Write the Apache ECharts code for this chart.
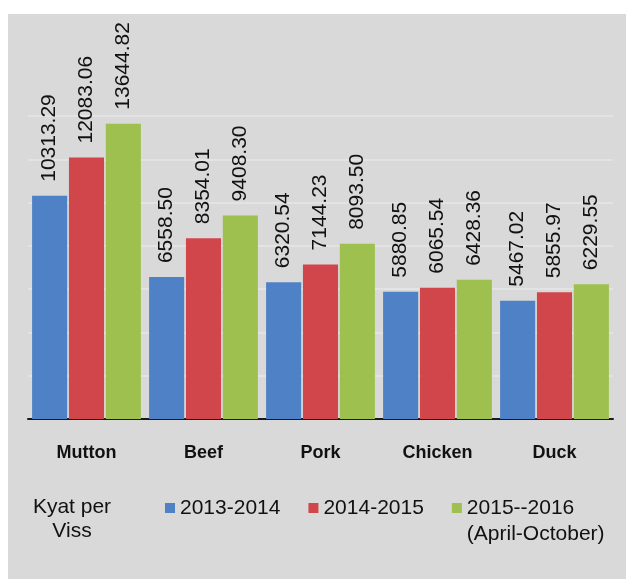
<!DOCTYPE html>
<html>
<head>
<meta charset="utf-8">
<script src="https://cdn.jsdelivr.net/npm/echarts@6/dist/echarts.min.js"></script>
<style>
html,body{margin:0;padding:0;background:#fff;}
#chart{width:626px;height:579px;}
</style>
</head>
<body>
<div id="chart"></div>
<script>
const categories = ['Mutton', 'Beef', 'Pork', 'Chicken', 'Duck'];
const seriesNames = ['2013-2014', '2014-2015', '2015--2016\n(April-October)'];
const values2013 = [10313.29, 6558.50, 6320.54, 5880.85, 5467.02];
const values2014 = [12083.06, 8354.01, 7144.23, 6065.54, 5855.97];
const values2015 = [13644.82, 9408.30, 8093.50, 6428.36, 6229.55];
const unitLabel = 'Kyat per\nViss';
const colors = ['#4e81c6', '#d0464b', '#9dc04f'];

const FONT = "'Liberation Sans', Arial, sans-serif";
const chart = echarts.init(document.getElementById('chart'), null, {renderer: 'canvas'});

function makeSeries(name, data, color) {
  return {
    name: name,
    type: 'bar',
    data: data,
    itemStyle: {color: color},
    barCategoryGap: '7%',
    barGap: '5%',
    label: {
      show: true,
      position: 'top',
      rotate: 90,
      align: 'left',
      verticalAlign: 'middle',
      distance: 14,
      fontFamily: FONT,
      fontSize: 21,
      color: '#111',
      formatter: p => p.value.toFixed(2)
    }
  };
}

chart.setOption({
  animation: false,
  backgroundColor: '#ffffff',
  graphic: [{
    type: 'rect',
    shape: {x: 8, y: 14, width: 618, height: 565},
    style: {fill: '#d9d9d9'},
    z: -10,
    silent: true
  }],
  title: {
    text: unitLabel,
    left: 72,
    top: 495,
    padding: 0,
    textAlign: 'center',
    textStyle: {fontFamily: FONT, fontSize: 21, fontWeight: 'normal', color: '#111', lineHeight: 24}
  },
  legend: {
    left: 165,
    top: 469,
    padding: 0,
    itemWidth: 10,
    itemHeight: 10,
    itemGap: 28,
    icon: 'rect',
    data: seriesNames,
    formatter: function (name) {
      return name.indexOf('\n') >= 0 ? '{s| }\n' + name : name;
    },
    textStyle: {
      fontFamily: FONT, fontSize: 21, color: '#111', lineHeight: 26,
      rich: {s: {fontFamily: FONT, fontSize: 21, lineHeight: 26}}
    }
  },
  grid: {left: 28, right: 13, top: 116, bottom: 160, containLabel: false},
  xAxis: {
    type: 'category',
    data: categories,
    axisLine: {lineStyle: {color: '#1a1a1a', width: 2}},
    axisTick: {length: 7, lineStyle: {color: '#1a1a1a', width: 2}},
    axisLabel: {fontFamily: FONT, fontSize: 18, fontWeight: 'bold', color: '#111', margin: 25}
  },
  yAxis: {
    type: 'value',
    min: 0,
    max: 14000,
    interval: 2000,
    axisLabel: {show: false},
    axisLine: {show: false},
    axisTick: {show: false},
    splitLine: {lineStyle: {color: '#e3e3e3', width: 2}}
  },
  series: [
    makeSeries(seriesNames[0], values2013, colors[0]),
    makeSeries(seriesNames[1], values2014, colors[1]),
    makeSeries(seriesNames[2], values2015, colors[2])
  ]
});
</script>
</body>
</html>
